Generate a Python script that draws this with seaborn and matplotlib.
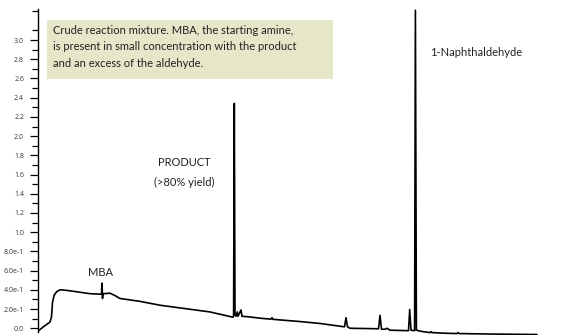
import numpy as np
import pandas as pd
import seaborn as sns
import matplotlib.pyplot as plt
from matplotlib.patches import Rectangle
from matplotlib.ticker import FixedLocator, FixedFormatter, MultipleLocator

# retention time (min) and detector signal
time_min = [0.0, 0.3, 0.6, 0.675, 0.725, 0.8, 0.925, 1.1, 1.2, 1.6, 2.1, 2.6,
            3.1, 3.175, 3.2, 3.225, 3.25, 3.6, 3.85, 4.1, 5.1, 6.1, 7.35, 8.6,
            9.75, 9.78, 9.815, 9.85, 9.9, 9.965, 10.0, 10.15, 10.2, 10.5,
            11.1, 11.65, 11.7, 11.75, 13.1, 14.1, 15.325, 15.4, 15.475, 15.6,
            17.025, 17.1, 17.175, 17.35, 17.45, 17.6, 18.525, 18.585, 18.65,
            18.83, 18.87, 18.92, 19.1, 19.6, 19.65, 19.7, 20.4, 20.95, 21.0,
            21.05, 22.6, 24.95]
signal = [-0.03, 0.02, 0.065, 0.12, 0.27, 0.34, 0.38, 0.40, 0.40, 0.39, 0.375, 0.36,
          0.355, 0.355, 0.47, 0.31, 0.36, 0.365, 0.34, 0.31, 0.28, 0.24, 0.205, 0.17,
          0.115, 0.13, 2.34, 0.14, 0.125, 0.17, 0.125, 0.19, 0.125, 0.12,
          0.105, 0.095, 0.11, 0.093, 0.07, 0.05, 0.015, 0.11, 0.015, 0.0,
          -0.005, 0.135, -0.01, -0.01, 0.0, -0.02, -0.025, 0.195, -0.02,
          -0.025, 3.31, -0.02, -0.03, -0.045, -0.035, -0.045, -0.052, -0.055, -0.045,
          -0.055, -0.06, -0.065]

y_ticks = [0.0, 0.2, 0.4, 0.6, 0.8, 1.0, 1.2, 1.4, 1.6, 1.8, 2.0, 2.2, 2.4, 2.6, 2.8, 3.0]
y_tick_labels = ['0.0', '2.0e-1', '4.0e-1', '6.0e-1', '8.0e-1', '1.0', '1.2', '1.4',
                 '1.6', '1.8', '2.0', '2.2', '2.4', '2.6', '2.8', '3.0']

note = ('Crude reaction mixture. MBA, the starting amine,\n'
        'is present in small concentration with the product\n'
        'and an excess of the aldehyde.')

df = pd.DataFrame({'time': time_min, 'signal': signal})

sns.set_style('white')
plt.rcParams['font.family'] = ['Lato', 'DejaVu Sans']

W, H = 574, 335
fig = plt.figure(figsize=(W / 100, H / 100), dpi=100)
ax = fig.add_axes([38 / W, 0.0, (W - 38) / W, 325.7 / H])

sns.lineplot(data=df, x='time', y='signal', ax=ax, color='black',
             linewidth=1.2, estimator=None, sort=False)

ax.set_xlim(0, 26.8)
ax.set_ylim(-0.07, 3.32)
for s in ['top', 'right', 'bottom']:
    ax.spines[s].set_visible(False)
ax.spines['left'].set_bounds(-0.04, 3.32)
ax.spines['left'].set_linewidth(1.0)
ax.spines['left'].set_color('black')
ax.set_xticks([])
ax.set_xlabel('')
ax.set_ylabel('')
ax.yaxis.set_major_locator(FixedLocator(y_ticks))
ax.yaxis.set_major_formatter(FixedFormatter(y_tick_labels))
ax.yaxis.set_minor_locator(FixedLocator([round(0.1 * i, 1) for i in range(1, 34, 2)]))
ax.tick_params(axis='y', which='major', direction='out', length=6, width=0.9,
               labelsize=5, pad=4, colors='black', labelcolor='#333333', left=True)
ax.tick_params(axis='y', which='minor', direction='out', length=4.5, width=0.9,
               colors='black', left=True)
for lab in ax.get_yticklabels():
    lab.set_family(['Open Sans', 'DejaVu Sans'])

def px(x, y):
    return x / W, 1 - y / H

fig.patches.append(Rectangle(px(47, 79), (333 - 47) / W, (79 - 20) / H,
                             transform=fig.transFigure, facecolor='#e6e7c9',
                             edgecolor='none', zorder=0))
fig.text(*px(53, 25), note, fontsize=8, color='#222222', va='top', ha='left',
         linespacing=1.6)
fig.text(*px(184, 162), 'PRODUCT', fontsize=8, color='#222222', ha='center', va='center')
fig.text(*px(184.5, 182), '(>80% yield)', fontsize=8, color='#222222', ha='center', va='center')
fig.text(*px(100.5, 272), 'MBA', fontsize=8, color='#222222', ha='center', va='center')
fig.text(*px(430, 52), '1-Naphthaldehyde', fontsize=8, color='#222222', ha='left', va='center')

fig.savefig('out.png', dpi=100)
